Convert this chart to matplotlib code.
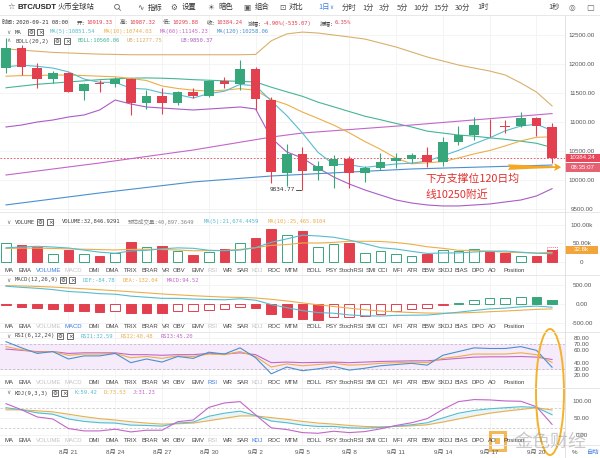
import numpy as np
import matplotlib.pyplot as plt
from matplotlib.patches import Rectangle, Ellipse, Circle
from matplotlib.transforms import blended_transform_factory

CJK = ['Noto Sans CJK SC', 'DejaVu Sans']
MONO = ['DejaVu Sans Mono', 'Noto Sans CJK SC']
SANS = ['Liberation Sans', 'Noto Sans CJK SC', 'DejaVu Sans']
plt.rcParams['font.family'] = SANS

# daily candles BTC/USDT, 2020-08-17 .. 2020-09-21
opens = [11931, 12276, 11931, 11741, 11845, 11534, 11672, 11655, 11741, 11328,
         11448, 11328, 11517, 11448, 11707, 11655, 11914, 11379, 10121, 10448,
         10155, 10241, 10362, 10121, 10207, 10328, 10362, 10431, 10310, 10655,
         10776, 10948, 10931, 10931, 11069, 10919.33]
highs = [12448, 12328, 12017, 11879, 11862, 11672, 11724, 11776, 11759, 11552,
         11586, 11534, 11586, 11724, 11776, 12069, 11948, 11431, 10621, 10569,
         10328, 10431, 10414, 10241, 10466, 10466, 10466, 10569, 10741, 10931,
         11086, 11052, 11034, 11172, 11086, 10987.32]
lows = [11845, 11810, 11586, 11672, 11510, 11379, 11517, 11603, 11121, 11224,
        11138, 11293, 11414, 11431, 11586, 11552, 11207, 9948, 9897, 9834.77,
        10000, 9862, 9862, 9966, 10172, 10207, 10293, 10224, 10241, 10603,
        10690, 10741, 10810, 10914, 10759, 10295.88]
closes = [12276, 11948, 11741, 11845, 11517, 11655, 11663, 11741, 11328, 11448,
          11328, 11517, 11448, 11707, 11655, 11914, 11397, 10138, 10448, 10155,
          10241, 10362, 10121, 10207, 10310, 10379, 10431, 10310, 10655, 10776,
          10948, 10940, 10922, 11069, 10931, 10384.24]

ma5 = [11950, 11980, 11960, 11930, 11865, 11741, 11684, 11684, 11581, 11567,
       11502, 11472, 11414, 11490, 11531, 11648, 11624, 11362, 11110, 10810,
       10476, 10269, 10265, 10217, 10248, 10276, 10290, 10327, 10417, 10510,
       10624, 10726, 10848, 10931, 10962, 10852]
ma10 = [11790, 11800, 11800, 11810, 11810, 11800, 11790, 11780, 11750, 11716,
        11621, 11578, 11549, 11535, 11549, 11575, 11548, 11388, 11300, 11171,
        11062, 10947, 10814, 10664, 10529, 10376, 10279, 10296, 10317, 10379,
        10450, 10508, 10588, 10674, 10736, 10744]
boll_mid = [11590, 11620, 11650, 11670, 11690, 11710, 11730, 11745, 11755, 11760,
            11755, 11745, 11730, 11720, 11710, 11700, 11690, 11600, 11520, 11443,
            11342, 11262, 11181, 11100, 11039, 10975, 10914, 10842, 10809, 10775,
            10756, 10727, 10701, 10669, 10633, 10560]
boll_ub = [12260, 12240, 12220, 12200, 12190, 12180, 12170, 12165, 12160, 12160,
           12160, 12160, 12160, 12160, 12160, 12160, 12165, 12400, 12520, 12550,
           12534, 12500, 12466, 12431, 12362, 12293, 12207, 12121, 12052, 11983,
           11931, 11879, 11810, 11672, 11517, 11278]
boll_lb = [10914, 10948, 11000, 11034, 11086, 11121, 11207, 11379, 11310, 11259,
           11241, 11224, 11207, 11224, 11241, 11259, 11224, 10724, 10483, 10379,
           10207, 10052, 9931, 9828, 9741, 9655, 9603, 9569, 9552, 9552,
           9569, 9586, 9621, 9655, 9724, 9850]
ma60_idx = [0, 6, 12, 17, 19, 26, 35]
ma60 = [10086, 10293, 10517, 10740, 10810, 10948, 11145]
ma120_idx = [0, 6, 12, 17, 26, 35]
ma120 = [9570, 9776, 9966, 10069, 10190, 10258]

# volume in thousands
volume = [50, 44.7, 39.5, 21, 31.6, 21, 16.7, 24.6, 52.6, 39.5, 42, 30, 18.4, 26,
          34, 50, 64, 89, 74, 84, 39.5, 47, 50, 24.6, 30, 21, 15.8, 21, 31.6, 30,
          34, 27, 23, 15.8, 15.8, 32.8]
vol_est = 40.9
vol_ma5 = [38, 40, 42, 40, 37.4, 31.6, 26, 23, 29.3, 30.9, 35.1, 37.7, 36.5, 31.2,
           30.1, 31.7, 38.5, 52.6, 62.2, 72.2, 70.1, 66.7, 58.9, 49, 38.2, 34.5,
           28.3, 22.5, 23.9, 23.9, 26.5, 28.7, 29.1, 26, 23.1, 21.7]
vol_ma10 = [36, 37, 37, 36, 35, 34, 33, 32, 33.5, 34.1, 33.3, 31.9, 29.7, 30.2,
            30.5, 33.4, 38.1, 44.6, 46.7, 51.1, 50.9, 52.6, 55.8, 55.6, 55.2, 52.3,
            47.5, 40.7, 36.5, 31.1, 30.5, 28.5, 25.8, 24.9, 23.5, 25.5]

macd_hist = [-30, -73, -100, -135, -189, -195, -207, -189, -234, -238, -242, -189,
             -180, -162, -144, -72, -117, -280, -360, -414, -418, -360, -360, -324,
             -270, -189, -144, -108, -27, 40, 108, 153, 153, 180, 175, 95]
dea = [492, 483, 471, 454, 430, 407, 381, 357, 328, 299, 269, 246, 223, 203, 185,
       176, 161, 126, 81, 30, -22, -67, -112, -153, -187, -210, -228, -242, -245,
       -240, -227, -207, -188, -166, -144, -132]
dif = [477, 446, 421, 386, 335, 312, 277, 262, 211, 182, 152, 151, 133, 122, 113,
       140, 102, -14, -99, -177, -229, -247, -292, -315, -322, -305, -300, -296,
       -259, -220, -173, -130, -111, -76, -56, -85]

rsi6 = [74, 64, 55, 58, 46, 51, 51, 55, 40, 46, 41, 50, 47, 57, 54, 64, 48, 22,
        33, 27, 30, 34, 28, 31, 35, 37, 39, 36, 52, 58, 64, 63, 63, 66, 60, 32.59]
rsi12 = [66, 61, 57, 58, 52, 54, 54, 55, 48, 50, 47, 51, 50, 54, 53, 58, 50, 33,
         38, 35, 37, 39, 36, 37, 39, 40, 41, 40, 47, 50, 54, 54, 54, 56, 53, 40.48]
rsi24 = [62, 60, 58, 58, 55, 56, 56, 56, 53, 53, 52, 53, 53, 55, 54, 56, 53, 40,
         41, 40, 40.5, 41, 40, 41, 42, 42.5, 43, 43, 45, 47, 49, 49.5, 49.5, 50, 49,
         45.2]

kdj_k = [80, 74, 65, 61, 47, 40, 36, 35, 29, 28, 26, 35, 38, 55, 64, 70, 57, 41,
         36, 29, 25, 25, 21, 20, 22, 26, 30, 36, 50, 64, 72, 77, 80, 83, 81, 59.42]
kdj_d = [74, 74, 71, 68, 61, 54, 48, 44, 39, 35, 32, 33, 35, 42, 49, 56, 56, 51,
         46, 40, 35, 32, 28, 25, 24, 25, 27, 30, 38, 47, 56, 64, 70, 75, 80, 73.53]
kdj_j = [92, 74, 53, 47, 19, 12, 12, 17, 9, 14, 14, 39, 44, 81, 94, 98, 59, 21,
         16, 7, 5, 11, 7, 10, 18, 28, 36, 48, 75, 98, 104, 103, 100, 99, 83, 31.23]

date_idx = [4, 7, 10, 13, 16, 19, 22, 25, 28, 31, 34]
date_lbl = ['8月 21', '8月 24', '8月 27', '8月 30', '9月 2', '9月 5', '9月 8',
            '9月 11', '9月 14', '9月 17', '9月 20']

tags = ['MA', 'EMA', 'VOLUME', 'MACD', 'DMI', 'DMA', 'TRIX', 'BRAR', 'VR', 'OBV',
        'EMV', 'RSI', 'WR', 'SAR', 'KDJ', 'ROC', 'MTM', 'BOLL', 'PSY', 'StochRSI',
        'SMI', 'CCI', 'MFI', 'ATR', 'BBW', 'SKDJ', 'BIAS', 'DPO', 'AO', 'Position']
tag_x = [9, 25, 48.5, 73, 94, 112, 131, 149.5, 166, 179, 197.5, 213, 227.5, 242.5,
         257.5, 274, 291.5, 314, 331, 351, 370.5, 383, 397.5, 412.5, 428.5, 445,
         461.5, 478.5, 492.5, 514.5]

up_c = '#37a67b'
dn_c = '#e3404f'
c_teal = '#56bccf'
c_orange = '#ecae4a'
c_purple = '#c266c9'
c_blue = '#4b8fcf'
c_boll = '#44b596'
c_ub = '#d9b06c'
c_lb = '#a95dc4'
c_blue_ui = '#3d7fe0'

W, H = 600, 458
XR = 565
fig = plt.figure(figsize=(6, 4.58), dpi=100)


def pane(top, bottom, ylim, ticks, labels):
    ax = fig.add_axes([0, 1 - bottom / H, XR / W, (bottom - top) / H])
    ax.set_xlim(-0.385, 35.83)
    ax.set_ylim(*ylim)
    for s in ax.spines.values():
        s.set_visible(False)
    ax.set_xticks([])
    ax.yaxis.tick_right()
    ax.set_yticks(ticks)
    ax.set_yticklabels(labels, fontsize=4.5, color='#555555')
    ax.tick_params(axis='y', length=0, pad=12.2)
    for lab in ax.get_yticklabels():
        lab.set_horizontalalignment('center')
    for t in ticks:
        ax.axhline(t, color='#f2f2f2', lw=0.6, zorder=0)
    for d in date_idx:
        ax.axvline(d, color='#f3f3f3', lw=0.6, zorder=0)
    return ax


x = np.arange(len(closes))
o = np.array(opens)
c = np.array(closes)
up = c >= o
col = np.where(up, up_c, dn_c)

# ---- price pane ----
ax_p = pane(15, 212, (9448, 12845), [9500, 10000, 10500, 11000, 11500, 12000, 12500],
            ['9500.00', '10000.00', '10500.00', '11000.00', '11500.00', '12000.00', '12500.00'])
ax_p.plot(x, boll_ub, color=c_ub, lw=0.8, zorder=2)
ax_p.plot(x, boll_lb, color=c_lb, lw=0.8, zorder=2)
ax_p.plot(x, boll_mid, color=c_boll, lw=0.8, zorder=2)
ax_p.plot(ma60_idx, ma60, color=c_purple, lw=0.8, zorder=2)
ax_p.plot(ma120_idx, ma120, color=c_blue, lw=0.8, zorder=2)
ax_p.plot(x, ma10, color=c_orange, lw=0.8, zorder=2)
ax_p.plot(x, ma5, color=c_teal, lw=0.8, zorder=2)
ax_p.vlines(x, lows, highs, colors=col, lw=0.8, zorder=3)
ax_p.bar(x, np.maximum(np.abs(c - o), 14), bottom=np.minimum(o, c), width=0.62,
         color=col, zorder=4)
ax_p.axhline(closes[-1], color=dn_c, lw=0.6, ls=(0, (2, 2)), zorder=1)
ax_p.text(18.55, lows[19], '9834.77', ha='right', va='center', fontsize=4.3,
          color='#333333', family=MONO)
ax_p.plot([18.6, 18.9], [lows[19], lows[19]], color='#333333', lw=0.6)
ax_p.annotate('', xy=(35.75, 10222), xytext=(32.0, 10222),
              arrowprops=dict(arrowstyle='fancy,head_length=0.5,head_width=0.55,tail_width=0.4',
                              color='#f5a623', lw=0), zorder=6)

# ---- volume pane ----
ax_v = pane(212, 275, (-36.2, 135.4), [0, 50, 100], ['0', '50.00k', '100.00k'])
vface = np.where(up, 'white', dn_c)
vedge = np.where(up, up_c, dn_c)
ax_v.bar(x, volume, width=0.62, color=vface, edgecolor=vedge, lw=0.7, zorder=3)
ax_v.add_patch(Rectangle((35 - 0.31, volume[-1]), 0.62, vol_est - volume[-1], fill=False,
                         edgecolor=dn_c, lw=0.5, ls=(0, (1.5, 1.5)), zorder=3))
ax_v.plot(x, vol_ma10, color=c_orange, lw=0.8, zorder=4)
ax_v.plot(x, vol_ma5, color=c_teal, lw=0.8, zorder=4)

# ---- MACD pane ----
ax_m = pane(275, 332, (-750, 777), [-500, 0, 500], ['-500.00', '0.00', '500.00'])
hist = np.array(macd_hist)
prev = np.concatenate([[np.inf], hist[:-1]])
mcol = np.where(hist > 0, up_c, dn_c)
mface = np.where(hist < prev, mcol, 'white')
ax_m.bar(x, hist, width=0.62, color=mface, edgecolor=mcol, lw=0.7, zorder=3)
ax_m.plot(x, dea, color=c_orange, lw=0.8, zorder=4)
ax_m.plot(x, dif, color=c_teal, lw=0.8, zorder=4)

# ---- RSI pane ----
ax_r = pane(332, 388, (-1, 89.7), [20, 30, 40, 60, 70, 80],
            ['20.00', '30.00', '40.00', '60.00', '70.00', '80.00'])
ax_r.axhspan(30, 70, color='#f6ebfa', zorder=0.5, lw=0)
for lv in (30, 70):
    ax_r.axhline(lv, color='#c8b8d0', lw=0.6, ls=(0, (3, 2)), zorder=1)
ax_r.plot(x, rsi24, color=c_purple, lw=0.8, zorder=3)
ax_r.plot(x, rsi12, color=c_orange, lw=0.8, zorder=3)
ax_r.plot(x, rsi6, color=c_blue, lw=0.8, zorder=3)

# ---- KDJ pane ----
ax_k = pane(388, 445, (-29.4, 138), [0, 50, 100], ['0.00', '50.00', '100.00'])
for lv in (20, 80):
    ax_k.axhline(lv, color='#cccccc', lw=0.6, ls=(0, (3, 2)), zorder=1)
ax_k.fill_between(x, kdj_k, kdj_d, color='#bfe6f0', alpha=0.35, lw=0, zorder=1)
ax_k.plot(x, kdj_d, color=c_orange, lw=0.8, zorder=3)
ax_k.plot(x, kdj_k, color=c_teal, lw=0.8, zorder=3)
ax_k.plot(x, kdj_j, color=c_purple, lw=0.8, zorder=3)

# ---- overlay (toolbar, legends, tags, notes) ----
ov = fig.add_axes([0, 0, 1, 1], zorder=10)
ov.set_xlim(0, W)
ov.set_ylim(H, 0)
ov.axis('off')
ov.patch.set_alpha(0)

for yy in (15, 212, 275, 332, 388, 445):
    ov.plot([0, W], [yy, yy], color='#e4e4e4', lw=0.6)
ov.plot([XR, XR], [15, H], color='#dddddd', lw=0.6)

# toolbar
ov.text(7, 7.5, '☆', fontsize=6, color='#555555', va='center', family=['DejaVu Sans'])
ov.text(18, 7.5, 'BTC/USDT', fontsize=5.6, color='#222222', va='center', weight='bold')
ov.text(58, 7.5, '火币全球站', fontsize=5.3, color='#333333', va='center', family=CJK)
ov.add_patch(Circle((117, 6.8), 2.4, fill=False, edgecolor='#666666', lw=0.6))
ov.plot([118.8, 120.5], [8.6, 10.3], color='#666666', lw=0.6)
tool_items = [(137, '∿', 148, '指标'), (170, '⚙', 182, '设置'), (207, '☀', 218, '暗色'),
              (243, '▣', 255, '组合'), (279, '⊡', 289, '对比')]
for ix, ic, tx, tl in tool_items:
    ov.text(ix, 7.5, ic, fontsize=5.5, color='#555555', va='center', family=['DejaVu Sans'])
    ov.text(tx, 7.5, tl, fontsize=5.3, color='#333333', va='center', family=CJK)
ov.text(318, 7.5, '1日', fontsize=5.3, color=c_blue_ui, va='center', family=CJK)
ov.text(329, 7.5, '∨', fontsize=4, color=c_blue_ui, va='center', family=['DejaVu Sans'])
for tx, tl in [(342, '分时'), (362, '1分'), (379, '3分'), (397, '5分'), (413, '10分'),
               (433, '15分'), (455, '30分'), (477, '1时'), (548, '1秒')]:
    ov.text(tx, 7.5, tl, fontsize=5.3, color='#444444', va='center', family=CJK)
ov.text(572, 7.5, '◎', fontsize=5.5, color='#666666', va='center', ha='center',
        family=['DejaVu Sans'])
ov.text(590, 7.5, '▢', fontsize=6, color='#666666', va='center', ha='center',
        family=['DejaVu Sans'])

# info row
info = [(2, '时间:', 14.5, '2020-09-21 08:00', '#333333'), (77, '开:', 9, '10919.33', dn_c),
        (120, '高:', 9, '10987.32', dn_c), (163, '低:', 9, '10295.88', dn_c),
        (207, '收:', 9, '10384.24', dn_c), (248, '涨幅:', 14.5, '-4.90%(-535.07)', dn_c),
        (320, '振幅:', 14.5, '6.35%', dn_c)]
for ix, lb, off, val, vc in info:
    ov.text(ix, 23, lb, fontsize=4, color='#444444', va='center', family=MONO)
    ov.text(ix + off, 23, val, fontsize=4, color=vc, va='center', family=MONO)


def legend_row(y, arrow, name, icon_x, items):
    ov.text(6, y, arrow, fontsize=4.2, color='#777777', va='center', family=['DejaVu Sans'])
    ov.text(15, y, name, fontsize=4.1, color='#444444', va='center', family=MONO)
    for ix, sym in zip(icon_x, ('⚙', '×')):
        ov.add_patch(Rectangle((ix, y - 3.2), 6.4, 6.4, facecolor='white',
                               edgecolor='#555555', lw=0.6))
        ov.text(ix + 3.2, y + 0.2, sym, fontsize=4, color='#333333', ha='center',
                va='center', family=['DejaVu Sans'])
    for ix, txt, tc in items:
        ov.text(ix, y, txt, fontsize=4, color=tc, va='center', family=MONO)


legend_row(32, '∨', 'MA', (28, 37),
           [(50, 'MA(5):10851.54', c_teal), (104, 'MA(10):10744.03', c_orange),
            (160, 'MA(60):11145.23', c_purple), (217, 'MA(120):10258.06', c_blue)])
legend_row(41, '∧', 'BOLL(20,2)', (54, 64),
           [(77, 'BOLL:10560.06', c_boll), (127, 'UB:11277.75', c_ub),
            (180, 'LB:9850.37', c_lb)])
legend_row(222, '∨', 'VOLUME', (37, 47),
           [(62, 'VOLUME:32,846.9291', '#444444'), (128, '预估成交量:40,897.3649', '#888888'),
            (204, 'MA(5):21,674.4459', c_teal), (268, 'MA(10):25,465.9104', c_orange)])
legend_row(280, '∨', 'MACD(12,26,9)', (60, 69),
           [(83, 'DIF:-84.78', c_teal), (123, 'DEA:-132.04', c_orange),
            (167, 'MACD:94.52', c_purple)])
legend_row(336, '∨', 'RSI(6,12,24)', (57, 67),
           [(81, 'RSI1:32.59', c_teal), (121, 'RSI2:40.48', c_orange),
            (161, 'RSI3:45.20', c_purple)])
legend_row(393, '∨', 'KDJ(9,3,3)', (52, 61),
           [(75, 'K:59.42', c_teal), (104, 'D:73.53', c_orange), (133, 'J:31.23', c_purple)])

# indicator tag rows
for ty, active in [(270, 'VOLUME'), (327, 'MACD'), (383, 'RSI'), (440, 'KDJ')]:
    for tx, tg in zip(tag_x, tags):
        if tg == active:
            tc = c_blue_ui
        elif tg in ('VOLUME', 'MACD', 'RSI', 'KDJ'):
            tc = '#c4c4c4'
        else:
            tc = '#444444'
        ov.text(tx, ty, tg, fontsize=4.3, color=tc, ha='center', va='center')

# date axis
tr = blended_transform_factory(ax_k.transData, ov.transData)
for d, lb in zip(date_idx, date_lbl):
    ov.text(d, 452, lb, transform=tr, fontsize=4.5, color='#555555', ha='center',
            va='center', family=SANS)

# right-axis badges
ov.add_patch(Rectangle((XR, 153.5), 35, 8, color='#e8485c', lw=0))
ov.text(582.5, 157.6, '10384.24', fontsize=4.4, color='white', ha='center', va='center')
ov.add_patch(Rectangle((XR, 163), 35, 8.5, color='#e66272', lw=0))
ov.text(582.5, 167.3, '08:35:07', fontsize=4.4, color='white', ha='center', va='center')
ov.add_patch(Rectangle((XR, 245.5), 33, 8, color='#f2a53a', lw=0))
ov.text(581.5, 249.6, '32.8k', fontsize=4.4, color='white', ha='center', va='center')

# note
ov.text(425, 178.5, '下方支撑位120日均', fontsize=7.8, color='#e0322f', va='center',
        family=CJK)
ov.text(425, 195, '线10250附近', fontsize=7.8, color='#e0322f', va='center', family=CJK)
ov.add_patch(Ellipse((550, 392), 28, 126, fill=False, edgecolor='#f4b228', lw=1.4))

# watermark + bottom-right controls
ov.add_patch(Rectangle((490, 432), 15, 18, fill=False, edgecolor='#f0a020', lw=2.2,
                       alpha=0.75))
ov.add_patch(Rectangle((495, 438), 5, 6, color='#f0a020', alpha=0.75, lw=0))
ov.text(514, 441.5, '金色财经', fontsize=13, color='#8a8a8a', alpha=0.45, va='center',
        family=CJK)
ov.text(575, 452, '%', fontsize=4.5, color='#555555', ha='center', va='center')
ov.text(593, 452, '自动', fontsize=4.5, color=c_blue_ui, ha='center', va='center',
        family=CJK)

fig.savefig('out.png', dpi=100)
